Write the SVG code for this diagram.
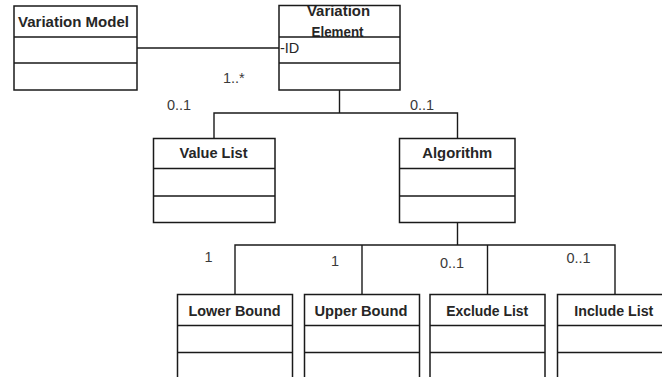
<svg xmlns="http://www.w3.org/2000/svg" width="662" height="377" viewBox="0 0 662 377">
<style>
.box{fill:none;stroke:#1a1a1a;stroke-width:1.5}
.div{stroke:#1a1a1a;stroke-width:1.5}
.t{font-family:"Liberation Sans",Arial,sans-serif;font-weight:bold;font-size:14px;fill:#262626;text-anchor:middle}
.a{font-family:"Liberation Sans",Arial,sans-serif;font-size:14.5px;fill:#262626}
.m{font-family:"Liberation Sans",Arial,sans-serif;font-size:14.5px;fill:#3a3a3a}
.c{fill:none;stroke:#1a1a1a;stroke-width:1.4}
</style>
<rect width="662" height="377" fill="#fff"/>
<g id="connectors">
<path class="c" d="M137 48H279"/>
<path class="c" d="M339.5 90V113M214 138V113H457.5V138"/>
<path class="c" d="M457.5 222V245M235 294V245H615V294M362 245V294M487.5 245V294"/>
</g>
<g id="variation-model">
<text class="t" x="73.5" y="26.5" textLength="111" lengthAdjust="spacingAndGlyphs">Variation Model</text>
<rect class="box" x="14" y="6" width="123" height="84"/>
<path class="div" d="M14 37H137M14 63H137"/>
</g>
<g id="variation-element">
<text class="t" x="338.5" y="16" textLength="63" lengthAdjust="spacingAndGlyphs">Variation</text>
<text class="t" x="337.5" y="36.5" textLength="52" lengthAdjust="spacingAndGlyphs">Element</text>
<rect x="279" y="0" width="121" height="5.8" fill="#fff"/>
<rect class="box" x="279" y="5.5" width="121" height="84.5"/>
<path class="div" d="M279 37H400M279 63H400"/>
<text class="a" x="280" y="53">-ID</text>
</g>
<g id="value-list">
<rect class="box" x="153.5" y="138.5" width="121.5" height="84"/>
<path class="div" d="M153.5 168.5H275M153.5 196H275"/>
<text class="t" x="213.5" y="158" textLength="68" lengthAdjust="spacingAndGlyphs">Value List</text>
</g>
<g id="algorithm">
<rect class="box" x="399.5" y="138.5" width="115.5" height="84"/>
<path class="div" d="M399.5 168.5H515M399.5 196H515"/>
<text class="t" x="457.3" y="158" textLength="70" lengthAdjust="spacingAndGlyphs">Algorithm</text>
</g>
<g id="lower-bound">
<rect class="box" x="177.5" y="294.5" width="115" height="100"/>
<path class="div" d="M177.5 325.5H292.5M177.5 352.5H292.5"/>
<text class="t" x="234.5" y="315.5" textLength="92" lengthAdjust="spacingAndGlyphs">Lower Bound</text>
</g>
<g id="upper-bound">
<rect class="box" x="304.5" y="294.5" width="115" height="100"/>
<path class="div" d="M304.5 325.5H419.5M304.5 352.5H419.5"/>
<text class="t" x="361" y="315.5" textLength="93" lengthAdjust="spacingAndGlyphs">Upper Bound</text>
</g>
<g id="exclude-list">
<rect class="box" x="430" y="294.5" width="115" height="100"/>
<path class="div" d="M430 325.5H545M430 352.5H545"/>
<text class="t" x="487.2" y="315.5" textLength="82" lengthAdjust="spacingAndGlyphs">Exclude List</text>
</g>
<g id="include-list">
<rect class="box" x="557.5" y="294.5" width="115" height="100"/>
<path class="div" d="M557.5 325.5H672.5M557.5 352.5H672.5"/>
<text class="t" x="613.8" y="315.5" textLength="79" lengthAdjust="spacingAndGlyphs">Include List</text>
</g>
<g id="labels">
<text class="m" x="223" y="82.5">1..*</text>
<text class="m" x="167" y="110">0..1</text>
<text class="m" x="410" y="109.5">0..1</text>
<text class="m" x="204.5" y="261.5">1</text>
<text class="m" x="331" y="265.5">1</text>
<text class="m" x="440" y="268">0..1</text>
<text class="m" x="566.5" y="263">0..1</text>
</g>
</svg>
